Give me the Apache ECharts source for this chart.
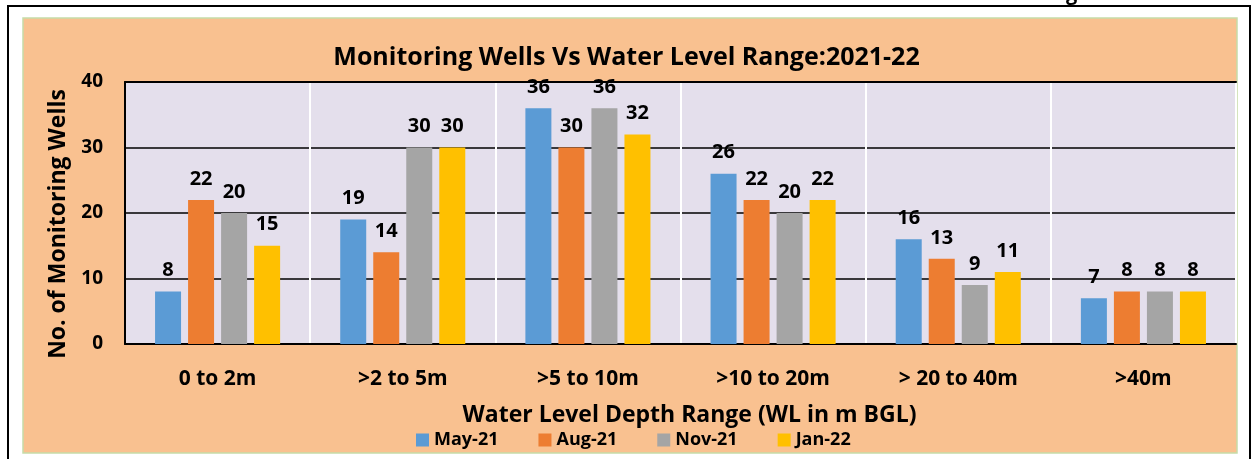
<!DOCTYPE html>
<html>
<head>
<meta charset="utf-8">
<script src="https://cdn.jsdelivr.net/npm/echarts@6/dist/echarts.min.js"></script>
<style>
  html, body { margin: 0; padding: 0; background: #fff; }
  #chart { width: 1253px; height: 459px; }
</style>
</head>
<body>
<div id="chart"></div>
<script>
// categories and values
const categories = ['0 to 2m', '>2 to 5m', '>5 to 10m', '>10 to 20m', '> 20 to 40m', '>40m']
const may21 = [8, 19, 36, 26, 16, 7]
const aug21 = [22, 14, 30, 22, 13, 8]
const nov21 = [20, 30, 36, 20, 9, 8]
const jan22 = [15, 30, 32, 22, 11, 8]
const seriesNames = ['May-21', 'Aug-21', 'Nov-21', 'Jan-22']
const seriesColors = ['#5b9bd5', '#ed7d31', '#a5a5a5', '#ffc000']

const font = '"Open Sans", "Liberation Sans", sans-serif'

const chart = echarts.init(document.getElementById('chart'))

function barSeries(name, data, color) {
  return {
    name: name,
    type: 'bar',
    data: data,
    barWidth: 26,
    barGap: '27%',
    itemStyle: { color: color },
    label: {
      show: true,
      position: 'top',
      distance: 11,
      color: '#000',
      fontFamily: font,
      fontWeight: 'bold',
      fontSize: 20
    }
  }
}

chart.setOption({
  backgroundColor: '#fff',
  animation: false,
  graphic: [
    // outer frame (open at bottom)
    { type: 'polyline', shape: { points: [[8, 459], [8, 6], [1250, 6], [1250, 459]] },
      style: { stroke: '#000', lineWidth: 2, fill: null }, z: -10 },
    // peach chart area
    { type: 'rect', shape: { x: 23, y: 18, width: 1214, height: 435 },
      style: { fill: '#f9c190', stroke: '#c6dca8', lineWidth: 1.5 }, z: -10 },
    // cut-off text above the frame
    { type: 'text', left: 1066, top: -16,
      style: { text: 'g', font: 'bold 20px ' + font, fill: '#000' }, z: -9 }
  ],
  title: {
    text: 'Monitoring Wells Vs Water Level Range:2021-22',
    left: 'center',
    top: 40,
    textStyle: { fontFamily: font, fontWeight: 'bold', fontSize: 25, color: '#000' }
  },
  legend: {
    data: seriesNames,
    left: 411,
    top: 426,
    itemWidth: 13,
    itemHeight: 13,
    itemGap: 40,
    icon: 'rect',
    textStyle: { fontFamily: font, fontWeight: 'bold', fontSize: 18, color: '#000' }
  },
  grid: {
    left: 125,
    top: 82,
    right: 17,
    bottom: 115,
    show: true,
    backgroundColor: '#e4dfec',
    borderWidth: 0
  },
  xAxis: [
    {
      type: 'category',
      data: categories,
      name: 'Water Level Depth Range (WL in m BGL)',
      nameLocation: 'middle',
      nameGap: 60,
      nameTextStyle: { fontFamily: font, fontWeight: 'bold', fontSize: 23, color: '#000', padding: [0, 0, 0, 18] },
      axisLine: { lineStyle: { color: '#000', width: 2 } },
      axisTick: { show: false },
      axisLabel: { margin: 25, fontFamily: font, fontWeight: 'bold', fontSize: 21, color: '#000' },
      splitLine: { show: true, lineStyle: { color: '#fff', width: 2 } }
    },
    {
      type: 'category',
      position: 'top',
      data: categories,
      axisLine: { lineStyle: { color: '#000', width: 2 } },
      axisTick: { show: false },
      axisLabel: { show: false }
    }
  ],
  yAxis: {
    type: 'value',
    min: 0,
    max: 40,
    interval: 10,
    name: 'No. of Monitoring Wells',
    nameLocation: 'middle',
    nameGap: 52,
    nameTextStyle: { fontFamily: font, fontWeight: 'bold', fontSize: 23, color: '#000', padding: [0, 22, 0, 0] },
    axisLine: { show: true, lineStyle: { color: '#000', width: 2 } },
    axisTick: { show: false },
    axisLabel: { margin: 22, fontFamily: font, fontWeight: 'bold', fontSize: 19, color: '#000' },
    splitLine: { lineStyle: { color: '#000', width: 1.5 } }
  },
  series: [
    barSeries(seriesNames[0], may21, seriesColors[0]),
    barSeries(seriesNames[1], aug21, seriesColors[1]),
    barSeries(seriesNames[2], nov21, seriesColors[2]),
    barSeries(seriesNames[3], jan22, seriesColors[3])
  ]
})
</script>
</body>
</html>
